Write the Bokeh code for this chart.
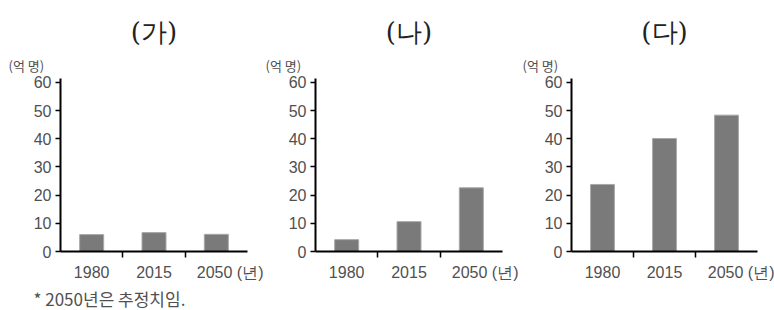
from bokeh.plotting import figure
from bokeh.layouts import row
from bokeh.models import Range1d, FixedTicker, Title
from bokeh.embed import file_html
from bokeh.resources import INLINE

# ---- data ----
years = ["1980", "2015", "2050"]
panel_titles = ["(가)", "(나)", "(다)"]
values_ga = [6.0, 6.7, 6.1]
values_na = [4.2, 10.6, 22.6]
values_da = [23.8, 40.1, 48.4]
y_ticks = [0, 10, 20, 30, 40, 50, 60]
y_unit = "(억 명)"
x_unit = "(년)"
footnote = "* 2050년은 추정치임."

panel_values = [values_ga, values_na, values_da]

SANS = "Liberation Sans"
CJK = "Noto Sans CJK KR"
TXT = "#505050"
BAR = "#7a7a7a"

widths = [263, 255, 256]
borders_left = [60, 52, 53]
frame_w = [187, 187, 186]
unit_offsets = [-52, -50, -49]
Y_END = 61.4


def make_panel(i):
    vals = panel_values[i]
    W = widths[i]
    p = figure(width=W, height=310, output_backend="svg", toolbar_location=None,
               x_range=Range1d(0, len(years)), y_range=Range1d(0, Y_END),
               min_border_left=borders_left[i],
               min_border_right=W - borders_left[i] - frame_w[i],
               min_border_top=78, min_border_bottom=54)
    p.outline_line_color = None
    p.xgrid.grid_line_color = None
    p.ygrid.grid_line_color = None
    p.background_fill_color = "white"
    p.border_fill_color = "white"

    xs = [k + 0.5 for k in range(len(years))]
    p.vbar(x=xs, top=vals, bottom=0, width=0.385,
           fill_color=BAR, line_color="#a8a8a8", line_width=1)

    # y axis
    ya = p.yaxis[0]
    ya.ticker = FixedTicker(ticks=y_ticks, minor_ticks=[])
    ya.axis_line_color = "black"
    ya.axis_line_width = 2
    ya.major_tick_line_color = "black"
    ya.major_tick_line_width = 1.5
    ya.major_tick_in = 0
    ya.major_tick_out = 5
    ya.minor_tick_line_color = None
    ya.major_label_standoff = 4
    ya.major_label_text_font = SANS
    ya.major_label_text_font_size = "16px"
    ya.major_label_text_color = TXT

    # x axis: labels at category centres (last one carries the unit), boundary ticks
    label_pos = xs[:-1] + [xs[-1] + 0.24]
    label_txt = years[:-1] + [years[-1] + " " + x_unit]
    xa = p.xaxis[0]
    xa.ticker = FixedTicker(ticks=label_pos, minor_ticks=[1, 2])
    xa.major_label_overrides = {x: t for x, t in zip(label_pos, label_txt)}
    xa.axis_line_color = "black"
    xa.axis_line_width = 2
    xa.major_tick_line_color = None
    xa.major_tick_in = 0
    xa.major_tick_out = 0
    xa.minor_tick_line_color = "black"
    xa.minor_tick_line_width = 1.5
    xa.minor_tick_in = 0
    xa.minor_tick_out = 6
    xa.major_label_standoff = 6
    xa.major_label_text_font = SANS
    xa.major_label_text_font_size = "16px"
    xa.major_label_text_color = TXT

    # unit label above the y axis (closest to the frame)
    p.add_layout(Title(text=y_unit, align="left", offset=unit_offsets[i], standoff=7,
                       text_font=CJK, text_font_size="13px", text_font_style="normal",
                       text_color=TXT), "above")
    # panel title
    p.add_layout(Title(text=panel_titles[i], align="center", standoff=8,
                       text_font="DejaVu Serif",
                       text_font_size="26px", text_font_style="normal",
                       text_color="#222222"), "above")
    if i == 0:
        p.add_layout(Title(text=footnote, align="left", offset=-27, standoff=0,
                           text_font=CJK, text_font_size="17px", text_font_style="normal",
                           text_color=TXT), "below")
    return p


panels = [make_panel(i) for i in range(3)]
layout = row(*panels, spacing=0)

open("out.html", "w").write(file_html(layout, INLINE))
